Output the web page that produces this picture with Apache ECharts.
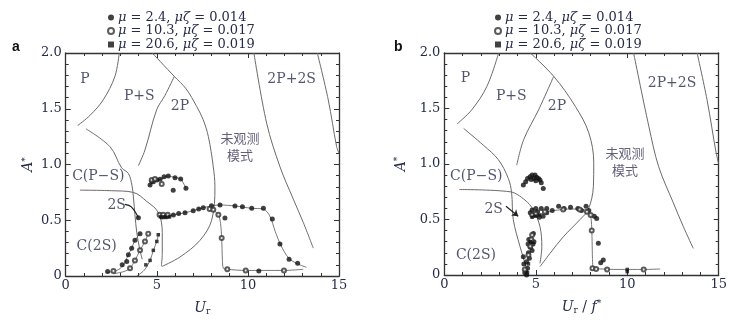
<!DOCTYPE html>
<html><head><meta charset="utf-8">
<script src="https://cdn.jsdelivr.net/npm/echarts@6/dist/echarts.min.js"></script>
<style>html,body{margin:0;padding:0;background:#fff}#c{width:743px;height:332px}</style>
</head><body><div id="c"></div>
<script>
// ---------- legend / series names ----------
const seriesNames = ['μ = 2.4, μζ = 0.014', 'μ = 10.3, μζ = 0.017', 'μ = 20.6, μζ = 0.019'];

// ---------- panel a: regime boundaries ----------
const A_P_upper = [[0.66,1.35],[1.33,1.44],[2.06,1.58],[2.7,1.79],[2.94,2.0]];
const A_P_lower = [[1.11,1.32],[2.43,1.16],[3.07,0.97],[3.44,0.92],[3.64,0.81],[3.72,0.7],[3.8,0.55],[3.9,0.39],[4.05,0.25],[4.2,0.15]];
const A_PS_2P = [[3.99,0.99],[4.35,1.13],[4.99,1.49],[5.45,1.62],[5.96,1.79]];
const A_2P_outer = [[4.75,2.0],[5.96,1.79],[6.6,1.68],[7.19,1.52],[7.55,1.4],[7.83,1.25],[8.1,0.98],[8.19,0.8],[8.01,0.5],[7.37,0.32],[6.27,0.17],[5.27,0.085]];
const A_CPS = [[0.78,0.77],[2.5,0.765],[3.71,0.75],[4.44,0.67],[5.08,0.57],[5.3,0.39],[5.3,0.2],[5.25,0.09]];
const A_right1 = [[10.33,2.0],[11.03,1.37],[11.76,0.98],[12.49,0.69],[13.04,0.48],[13.59,0.25]];
const A_right2 = [[13.81,2.0],[14.41,1.58],[14.87,1.16],[15,1.1]];

// ---------- panel a: fitted traces through data ----------
const A_trace_upper = [[4.6,0.81],[4.81,0.846],[5.18,0.867],[5.63,0.897],[6.0,0.882],[6.31,0.87],[6.6,0.786]];
const A_trace_main = [[5.15,0.54],[5.5,0.54],[5.91,0.547],[6.55,0.568],[7.0,0.586],[7.55,0.613],[8.47,0.637],[9.29,0.628],[10.21,0.607],[10.85,0.6],[11.2,0.54],[11.5,0.4],[11.8,0.278],[12.24,0.16],[12.71,0.11],[13.22,0.078]];
const A_trace_open = [[8.0,0.6],[8.38,0.55],[8.5,0.47],[8.56,0.34],[8.6,0.15],[8.65,0.07],[8.87,0.06],[9.88,0.05],[11.98,0.05],[13.04,0.06]];
const A_trace_low1 = [[2.25,0.03],[2.8,0.05],[3.13,0.09],[3.44,0.19],[3.62,0.25],[3.8,0.32],[4.08,0.38]];
const A_trace_low2 = [[2.62,0.02],[3.2,0.04],[3.53,0.07],[3.8,0.14],[4.08,0.23],[4.35,0.31],[4.53,0.38]];
const A_trace_low3 = [[3.9,0.0],[4.3,0.05],[4.63,0.14],[4.81,0.23],[5.0,0.31],[5.1,0.38]];
const A_trace_2S = [[3.25,0.643],[3.6,0.62],[3.99,0.523]];

// ---------- panel a: measured points ----------
const A_fill = [[4.63,0.816],[4.72,0.85],[4.81,0.846],[5.0,0.86],[5.18,0.867],[5.4,0.89],[5.63,0.897],[6.0,0.882],[6.31,0.87],[6.6,0.786],[5.9,0.77],
  [5.3,0.53],[5.6,0.535],[5.91,0.547],[6.2,0.56],[6.55,0.568],[7.0,0.586],[7.3,0.6],[7.55,0.613],[8.0,0.63],[8.47,0.637],[9.29,0.628],[9.7,0.62],[10.21,0.607],[10.85,0.607],[11.34,0.511],[11.76,0.287],[12.26,0.15],[12.73,0.114],[10.6,0.045],[8.74,0.52],
  [2.3,0.04],[3.1,0.1],[3.35,0.13],[3.44,0.19],[3.62,0.25],[3.8,0.32],[4.08,0.38],[3.99,0.523]];
const A_open = [[4.72,0.861],[4.9,0.87],[5.27,0.825],[5.15,0.55],[5.35,0.55],[5.6,0.55],[7.9,0.6],[8.1,0.595],[8.38,0.55],[8.56,0.34],[8.87,0.06],[9.88,0.05],[11.98,0.05],
  [2.62,0.045],[3.53,0.07],[3.8,0.14],[4.08,0.23],[4.35,0.31],[4.53,0.38]];
const A_square = [[5.2,0.53],[5.4,0.53],[5.5,0.525],[5.7,0.53],[4.4,0.1],[4.63,0.14],[4.81,0.23],[5.0,0.31],[5.08,0.37]];

// ---------- panel b: regime boundaries ----------
const B_P_upper = [[0.69,1.36],[1.51,1.49],[2.33,1.7],[2.97,2.0]];
const B_P_lower = [[1.06,1.32],[2.13,1.17],[2.95,1.04],[3.5,0.87],[3.68,0.74],[3.77,0.5],[4.14,0.255],[4.41,0.105],[4.54,0.015]];
const B_PS_2P = [[3.96,0.99],[4.34,1.22],[5.16,1.49],[5.98,1.79]];
const B_2P_outer = [[4.7,2.0],[5.98,1.79],[7.16,1.52],[7.9,1.28],[8.17,1.01],[8.15,0.8],[7.87,0.59],[7.42,0.5],[6.51,0.345],[5.78,0.195],[5.23,0.075]];
const B_CPS = [[0.82,0.77],[3.59,0.75],[4.41,0.675],[4.87,0.585],[5.23,0.435],[5.33,0.255],[5.23,0.105]];
const B_right1 = [[10.35,2.0],[11.18,1.34],[11.72,0.975],[12.52,0.65],[13.07,0.435],[13.61,0.24]];
const B_right2 = [[13.82,2.0],[14.36,1.58],[14.86,1.1],[15,1.0]];

// ---------- panel b: trace + points ----------
const B_trace_main = [[4.8,0.54],[5.2,0.545],[5.6,0.57],[6.2,0.585],[6.9,0.595],[7.5,0.59],[7.9,0.57],[8.03,0.5],[8.08,0.3],[8.1,0.15],[8.15,0.06],[8.5,0.055],[9.5,0.05],[10.9,0.05],[11.8,0.054]];
const B_arrow = [[3.37,0.62],[4.04,0.53]];
const B_fill = [[4.32,0.81],[4.45,0.84],[4.55,0.87],[4.69,0.885],[4.8,0.9],[4.9,0.87],[4.96,0.9],[5.05,0.88],[5.15,0.87],[5.23,0.856],[5.3,0.83],[5.41,0.78],[4.75,0.86],[5.0,0.85],
  [4.7,0.56],[4.8,0.585],[4.9,0.54],[5.0,0.6],[5.1,0.57],[5.2,0.52],[5.4,0.53],[5.6,0.56],[5.9,0.58],[6.25,0.62],[6.55,0.6],[6.9,0.61],[7.3,0.6],[7.5,0.58],[7.75,0.62],[7.9,0.58],[8.2,0.53],[8.33,0.51],[5.3,0.6],[5.6,0.6],[8.42,0.285],[8.69,0.135],[8.55,0.11],
  [4.32,0.165],[4.35,0.1],[4.45,0.04],[4.5,0.0],[4.55,0.06],[4.6,0.2],[4.7,0.25],[4.75,0.3],[4.87,0.375],[4.9,0.3],[4.8,0.22],[4.65,0.15],[4.5,0.12],[4.58,0.28],[4.62,0.32],[4.85,0.28],[4.4,0.02]];
const B_open = [[4.8,0.54],[5.0,0.55],[5.5,0.57],[6.5,0.59],[7.4,0.59],[7.8,0.57],[8.0,0.54],[8.06,0.4],[8.1,0.06],[8.3,0.055],[8.9,0.05],[10.9,0.05],
  [4.4,0.05],[4.6,0.18],[4.7,0.26],[4.8,0.36],[4.75,0.32]];
const B_square = [[4.55,0.02],[4.6,0.1],[4.7,0.3],[4.8,0.52],[5.0,0.53],[5.2,0.54],[10.0,0.05],[10.0,0.03]];

// ---------- region annotations (data coordinates) ----------
const A_notes = [[1.06,1.76,'P'],[4.04,1.61,'P+S'],[6.27,1.52,'2P'],[12.4,1.76,'2P+2S'],[1.79,0.89,'C(P−S)'],[2.8,0.634,'2S'],[1.7,0.27,'C(2S)']];
const A_cn = [[9.57,1.165,'未观测\n模式']];
const B_notes = [[1.15,1.77,'P'],[3.66,1.61,'P+S'],[6.16,1.52,'2P'],[12.45,1.73,'2P+2S'],[1.75,0.89,'C(P−S)'],[2.7,0.59,'2S'],[1.73,0.18,'C(2S)']];
const B_cn = [[9.88,1.02,'未观测\n模式']];

const xRange = [0, 15], xStep = 5;
const yRange = [0, 2], yStep = 0.5;

// ---------- option building ----------
const SERIF = '"DejaVu Serif", "Liberation Serif", serif';
const TXT = '#262c48';
const AX = '#333';

function xAx(grid, top) {
  return {
    type: 'value', gridIndex: grid, position: top ? 'top' : 'bottom',
    min: xRange[0], max: xRange[1], interval: xStep,
    axisLine: {show: true, onZero: false, lineStyle: {color: AX, width: 1.3}},
    axisTick: {show: true, inside: true, length: 5, lineStyle: {color: AX}},
    minorTick: {show: true, splitNumber: 5, length: 3, lineStyle: {color: AX}},
    splitLine: {show: false},
    axisLabel: {show: !top, margin: 3, color: TXT, fontFamily: SERIF, fontSize: 13},
  };
}
function yAx(grid, right) {
  return {
    type: 'value', gridIndex: grid, position: right ? 'right' : 'left',
    min: yRange[0], max: yRange[1], interval: yStep,
    axisLine: {show: true, onZero: false, lineStyle: {color: AX, width: 1.3}},
    axisTick: {show: true, inside: true, length: 5, lineStyle: {color: AX}},
    minorTick: {show: true, splitNumber: 5, length: 3, lineStyle: {color: AX}},
    splitLine: {show: false},
    axisLabel: {show: !right, margin: 4, color: TXT, fontFamily: SERIF, fontSize: 13,
      formatter: v => v === 0 ? '0' : v.toFixed(1)},
  };
}

const xAxes = [xAx(0,false), xAx(0,true), xAx(1,false), xAx(1,true)];
const yAxes = [yAx(0,false), yAx(0,true), yAx(1,false), yAx(1,true)];
const richName = {
  i: {fontFamily: SERIF, fontStyle: 'italic', fontSize: 14, color: TXT},
  n: {fontFamily: SERIF, fontSize: 14, color: TXT},
  s: {fontFamily: SERIF, fontSize: 9, color: TXT, padding: [7, 0, 0, 0]},
  p: {fontFamily: SERIF, fontSize: 9, color: TXT, padding: [0, 0, 7, 0]},
};
xAxes[0].name = '{i|U}{s|r}'; xAxes[2].name = '{i|U}{s|r}{n| / }{i|f}{p|*}';
[0,2].forEach(k => Object.assign(xAxes[k], {nameLocation: 'middle', nameGap: 24, nameTextStyle: {rich: richName}}));
yAxes[0].name = '{i|A}{p|*}'; yAxes[2].name = '{i|A}{p|*}';
Object.assign(yAxes[0], {nameLocation: 'middle', nameRotate: 90, nameGap: 29, nameTextStyle: {rich: richName}});
Object.assign(yAxes[2], {nameLocation: 'middle', nameRotate: 90, nameGap: 35, nameTextStyle: {rich: richName}});

const series = [];
function boundary(data, g) {
  series.push({type: 'line', name: '_b', xAxisIndex: g*2, yAxisIndex: g*2, data, smooth: 0.35,
    showSymbol: false, silent: true, lineStyle: {color: '#6a6a6a', width: 1}, z: 2});
}
function trace(data, g) {
  series.push({type: 'line', name: '_t', xAxisIndex: g*2, yAxisIndex: g*2, data, smooth: 0.3,
    showSymbol: false, silent: true, lineStyle: {color: '#555', width: 0.8}, z: 3});
}
function points(data, g, kind) {
  const sym = ['circle', 'emptyCircle', 'rect'][kind];
  series.push({type: 'scatter', name: seriesNames[kind], xAxisIndex: g*2, yAxisIndex: g*2, data,
    symbol: sym, symbolSize: kind === 2 ? 3.5 : (kind === 1 ? 4 : 5), silent: true, z: 5,
    itemStyle: kind === 1 ? {color: '#333', borderColor: '#333', borderWidth: 0.6} : {color: '#111'}});
}
function notes(data, g, cn) {
  series.push({type: 'scatter', name: '_n', xAxisIndex: g*2, yAxisIndex: g*2, symbolSize: 0, silent: true, z: 6,
    data: data.map(d => ({value: [d[0], d[1]], name: d[2]})),
    label: {show: true, position: 'inside', formatter: '{b}', color: cn ? '#3d3656' : TXT,
      fontFamily: cn ? '"Noto Sans CJK SC", sans-serif' : SERIF, fontSize: cn ? 13 : 14, lineHeight: 17, align: 'center'}});
}

[A_P_upper, A_P_lower, A_PS_2P, A_2P_outer, A_CPS, A_right1, A_right2].forEach(d => boundary(d, 0));
[A_trace_upper, A_trace_main, A_trace_open, A_trace_low1, A_trace_low2, A_trace_low3].forEach(d => trace(d, 0));
series.push({type: 'line', name: '_t', xAxisIndex: 0, yAxisIndex: 0, data: A_trace_2S, smooth: 0.4, showSymbol: false, silent: true,
  lineStyle: {color: '#222', width: 1.2}, z: 3});
points(A_fill, 0, 0); points(A_open, 0, 1); points(A_square, 0, 2);
notes(A_notes, 0, false); notes(A_cn, 0, true);

[B_P_upper, B_P_lower, B_PS_2P, B_2P_outer, B_CPS, B_right1, B_right2].forEach(d => boundary(d, 1));
trace(B_trace_main, 1);
series.push({type: 'line', name: '_t', xAxisIndex: 2, yAxisIndex: 2, data: [], silent: true,
  markLine: {silent: true, symbol: ['none', 'arrow'], symbolSize: 6, label: {show: false},
    lineStyle: {color: '#222', width: 1.2, type: 'solid'},
    data: [[{coord: B_arrow[0]}, {coord: B_arrow[1]}]]}});
points(B_fill, 1, 0); points(B_open, 1, 1); points(B_square, 1, 2);
notes(B_notes, 1, false); notes(B_cn, 1, true);

function legend(left) {
  return {
    left, top: 6, orient: 'vertical', itemWidth: 6, itemHeight: 6, itemGap: 0.5, selectedMode: false,
    data: [{name: seriesNames[0], icon: 'circle'}, {name: seriesNames[1], icon: 'emptyCircle'}, {name: seriesNames[2], icon: 'rect'}],
    formatter: n => n.replace(/μζ|μ/g, m => '{i|' + m + '}'),
    textStyle: {fontFamily: SERIF, fontSize: 13, lineHeight: 13, color: TXT, padding: [0, 0, 0, -1],
      rich: {i: {fontFamily: SERIF, fontStyle: 'italic', fontSize: 13, lineHeight: 13, color: TXT}}},
  };
}

const chart = echarts.init(document.getElementById('c'), null, {renderer: 'canvas'});
chart.setOption({
  animation: false,
  backgroundColor: '#fff',
  grid: [
    {left: 65.7, top: 53, width: 273.3, height: 223},
    {left: 444.3, top: 53, width: 274.4, height: 222},
  ],
  xAxis: xAxes, yAxis: yAxes,
  legend: [legend(102), legend(489)],
  graphic: [
    {type: 'text', left: 12, top: 40, style: {text: 'a', font: 'bold 14px "Liberation Sans", Arial, sans-serif', fill: '#111'}},
    {type: 'text', left: 394, top: 40, style: {text: 'b', font: 'bold 14px "Liberation Sans", Arial, sans-serif', fill: '#111'}},
  ],
  series,
});
</script></body></html>
